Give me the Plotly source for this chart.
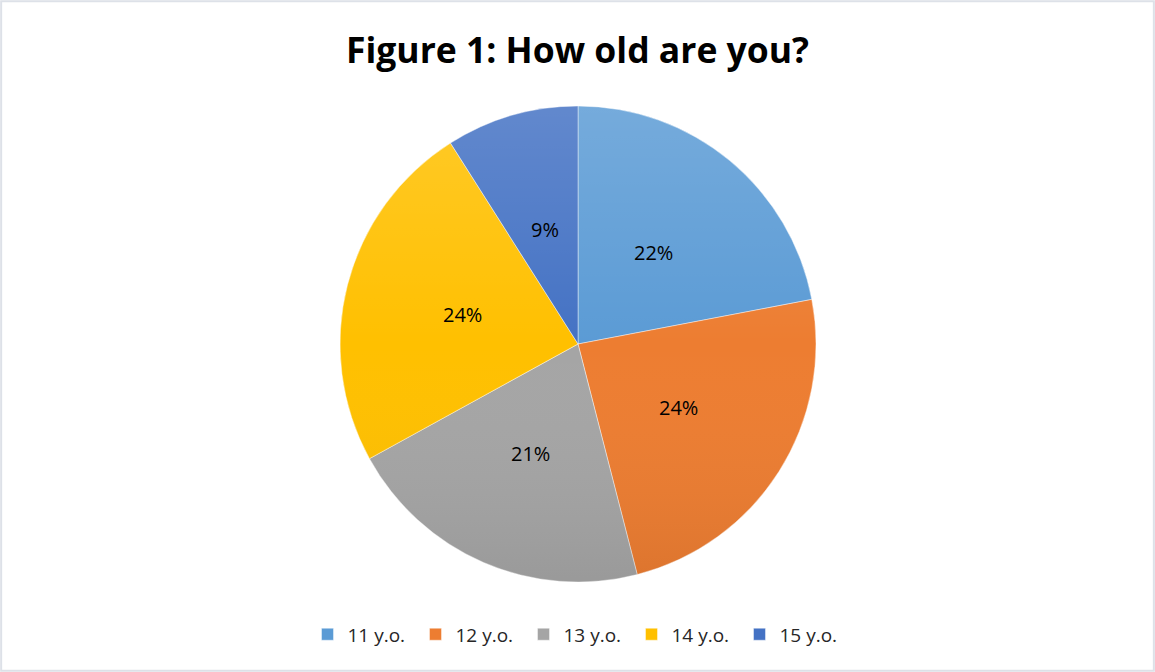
import math
import plotly.graph_objects as go

# Survey responses: age of respondents
age_groups = ["11 y.o.", "12 y.o.", "13 y.o.", "14 y.o.", "15 y.o."]
shares = [22, 24, 21, 24, 9]
slice_colors = ["#5B9BD5", "#ED7D31", "#A5A5A5", "#FFC000", "#4472C4"]

W, H = 1155, 672
font_family = "'Open Sans', sans-serif"

# Pie placement (paper fractions)
dom_x = [0.2944, 0.7065]
dom_y = [0.1339, 0.8423]

fig = go.Figure(
    go.Pie(
        labels=age_groups,
        values=shares,
        sort=False,
        direction="clockwise",
        rotation=0,
        marker=dict(colors=slice_colors, line=dict(width=0.8, color="rgba(255,255,255,0.55)")),
        textinfo="none",
        hoverinfo="label+percent",
        domain=dict(x=dom_x, y=dom_y),
    )
)

# Percentage labels sit halfway along each slice's bisector
cx_px = (dom_x[0] + dom_x[1]) / 2 * W
cy_px = (dom_y[0] + dom_y[1]) / 2 * H
radius_px = min((dom_x[1] - dom_x[0]) * W, (dom_y[1] - dom_y[0]) * H) / 2
total = sum(shares)
annotations = []
running = 0
for value in shares:
    mid = (running + value / 2) / total * 2 * math.pi
    running += value
    px = cx_px + 0.5 * radius_px * math.sin(mid)
    py = cy_px + 0.5 * radius_px * math.cos(mid)
    annotations.append(
        dict(
            x=px / W,
            y=py / H,
            xref="paper",
            yref="paper",
            text=f"{value}%",
            showarrow=False,
            xanchor="center",
            yanchor="middle",
            font=dict(family=font_family, size=20, color="#000000"),
        )
    )

# Soft top-to-bottom shading over the disc
shade_svg = (
    "<svg xmlns='http://www.w3.org/2000/svg' viewBox='0 0 100 100' preserveAspectRatio='none'>"
    "<defs><linearGradient id='g' x1='0' y1='0' x2='0' y2='1'>"
    "<stop offset='0' stop-color='white' stop-opacity='0.16'/>"
    "<stop offset='0.5' stop-color='white' stop-opacity='0'/>"
    "<stop offset='1' stop-color='black' stop-opacity='0.07'/>"
    "</linearGradient></defs>"
    "<circle cx='50' cy='50' r='50' fill='url(%23g)'/></svg>"
)
shade_uri = "data:image/svg+xml;charset=utf-8," + shade_svg.replace("<", "%3C").replace(">", "%3E").replace("'", "%27").replace(" ", "%20")

fig.update_layout(
    width=W,
    height=H,
    margin=dict(l=0, r=0, t=0, b=0),
    paper_bgcolor="#FFFFFF",
    plot_bgcolor="#FFFFFF",
    title=dict(
        text="<b>Figure 1: How old are you?</b>",
        x=0.5,
        xanchor="center",
        y=0.925,
        yanchor="middle",
        font=dict(family=font_family, size=35.5, color="#000000"),
    ),
    legend=dict(
        orientation="h",
        x=0.5,
        xanchor="center",
        y=0.056,
        yanchor="middle",
        font=dict(family=font_family, size=19, color="#262626"),
        itemwidth=30,
        entrywidth=63,
        entrywidthmode="pixels",
        traceorder="normal",
    ),
    annotations=annotations,
    images=[
        dict(
            source=shade_uri,
            xref="paper",
            yref="paper",
            x=(cx_px - radius_px) / W,
            y=(cy_px + radius_px) / H,
            sizex=2 * radius_px / W,
            sizey=2 * radius_px / H,
            xanchor="left",
            yanchor="top",
            sizing="stretch",
            layer="above",
        )
    ],
    shapes=[
        dict(
            type="rect",
            xref="paper",
            yref="paper",
            x0=0.001,
            x1=0.999,
            y0=0.002,
            y1=0.998,
            line=dict(color="#DDE1E8", width=2),
            fillcolor="rgba(0,0,0,0)",
            layer="above",
        )
    ],
)

fig.write_html("out.html")
